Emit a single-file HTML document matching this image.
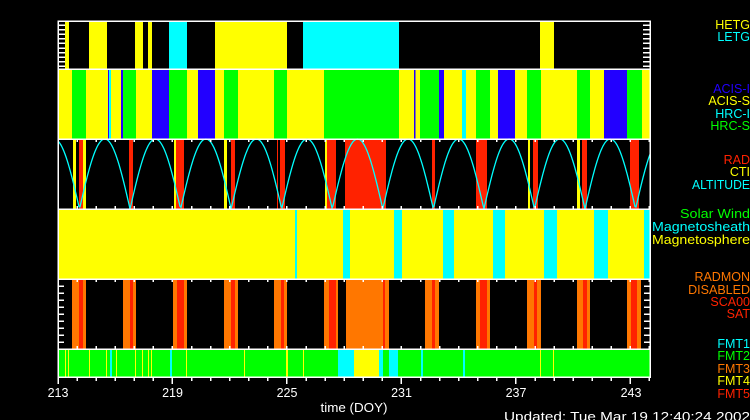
<!DOCTYPE html>
<html><head><meta charset="utf-8"><style>
html,body{margin:0;padding:0;background:#000;width:750px;height:420px;overflow:hidden}
svg{display:block}
text{font-family:"Liberation Sans",sans-serif;font-size:12.5px}
</style></head><body>
<svg id="s" width="750" height="420" viewBox="0 0 750 420" xmlns="http://www.w3.org/2000/svg" shape-rendering="crispEdges">
<rect width="750" height="420" fill="#000"/>
<g id="bars"></g>
<g id="curve"></g>
<g id="frame" stroke="#fff" stroke-width="1.5" fill="none"></g>
<g font-size="13" text-anchor="end">
<text x="750" y="29" fill="#ffff00">HETG</text>
<text x="750" y="41" fill="#00ffff">LETG</text>
<text x="750" y="93" fill="#2200ff">ACIS-I</text>
<text x="750" y="105" fill="#ffff00">ACIS-S</text>
<text x="750" y="118" fill="#00ffff">HRC-I</text>
<text x="750" y="130" fill="#00ff00">HRC-S</text>
<text x="750" y="164" fill="#ff2200">RAD</text>
<text x="750" y="176" fill="#ffff00">CTI</text>
<text x="750" y="189" fill="#00ffff" textLength="58" lengthAdjust="spacingAndGlyphs">ALTITUDE</text>
<text x="750" y="218" fill="#00ff00" textLength="70" lengthAdjust="spacingAndGlyphs">Solar Wind</text>
<text x="750" y="231" fill="#00ffff" textLength="98" lengthAdjust="spacingAndGlyphs">Magnetosheath</text>
<text x="750" y="244" fill="#ffff00" textLength="98" lengthAdjust="spacingAndGlyphs">Magnetosphere</text>
<text x="750" y="281" fill="#ff7700">RADMON</text>
<text x="750" y="294" fill="#ff7700">DISABLED</text>
<text x="750" y="306" fill="#ff2200">SCA00</text>
<text x="750" y="318" fill="#ff2200">SAT</text>
<text x="750" y="348" fill="#00ffff">FMT1</text>
<text x="750" y="360" fill="#00ff00">FMT2</text>
<text x="750" y="373" fill="#ff7700">FMT3</text>
<text x="750" y="385" fill="#ffff00">FMT4</text>
<text x="750" y="398" fill="#ff2200">FMT5</text>
</g>
<g fill="#fff" text-anchor="middle" font-size="13">
<text x="58" y="397">213</text>
<text x="172.5" y="397">219</text>
<text x="287" y="397">225</text>
<text x="401.5" y="397">231</text>
<text x="516" y="397">237</text>
<text x="631" y="397">243</text>
<text x="354" y="412" textLength="67" lengthAdjust="spacingAndGlyphs">time (DOY)</text>
</g>
<text x="504" y="421" fill="#fff" font-size="13" textLength="246" lengthAdjust="spacingAndGlyphs">Updated: Tue Mar 19 12:40:24 2002</text>
</svg>
<script>
const Y='#ffff00',C='#00ffff',G='#00ff00',B='#2200ff',R='#ff2200',O='#ff7700';
const bars=document.getElementById('bars');
let h='';
function r(x1,x2,y1,y2,c){h+=`<rect x="${x1}" y="${y1}" width="${x2-x1}" height="${y2-y1}" fill="${c}"/>`;}
[[65,69,Y],[89,107,Y],[135,143,Y],[148,152,Y],[169,187,C],[215,287,Y],[303,399,C],[540,554,Y]].forEach(a=>r(a[0],a[1],21,69,a[2]));
[[58,59,B],[59,72,Y],[72,86,G],[86,108,Y],[108,109,B],[109,111,C],[111,121,Y],[121,123,B],[123,136,G],[136,152,Y],[152,169,B],[169,187,G],[187,198,Y],[198,215,B],[215,224,Y],[224,238,G],[238,274,Y],[274,287,G],[287,324,Y],[324,399,G],[399,420,Y],[414,415.5,B],[420,439,G],[439,444,B],[444,462,Y],[462,466,C],[466,476,Y],[476,490,G],[490,498,Y],[498,515,B],[515,527,Y],[527,541,G],[541,577,Y],[577,590,G],[590,604,Y],[604,627,B],[627,642,G],[642,650,Y]].forEach(a=>r(a[0],a[1],69,139,a[2]));
[[73,76,Y],[79,83,R],[83,86,Y],[129,133,R],[174,176,Y],[176,184,R],[224,227,Y],[231,235,R],[277,278,R],[280,285,R],[325,327,Y],[327,336,R],[345,386,R],[432,435,R],[476,487,R],[528,530,Y],[533,538,R],[577,580,Y],[582,587,R],[630,639,R]].forEach(a=>r(a[0],a[1],139,209,a[2]));
r(58,650,209,279,Y);
[[295,297],[343,350],[394,402],[443,454],[493,505],[544,557],[594,608],[644,650]].forEach(a=>r(a[0],a[1],209,279,C));
[[72,86,79,83],[123,136,130,133],[173,187,177,184],[224,238,231,235],[274,287,281,284],[324,338,329,336],[346,389,383,385],[425,439,432,435],[476,490,480,487],[527,541,534,537],[577,590,583,587],[627,641,631,637]].forEach(a=>{r(a[0],a[1],279,349,O);r(a[2],a[3],279,349,R);});
r(58,650,349,377,G);
[65,68,89,106,116,135,142,148,151,186,244,303,540,553].forEach(x=>r(x,x+1,349,377,Y));
r(286,288,349,377,Y);
[[110,112],[170,172],[421,423],[463,465]].forEach(a=>r(a[0],a[1],349,377,C));
[[338,354,C],[354,379,Y],[379,383,C],[389,398,C]].forEach(a=>r(a[0],a[1],349,377,a[2]));
bars.innerHTML=h;
const P=50.55,x0=79.5;let pts=[];
for(let x=58;x<=650;x+=1){const v=Math.abs(Math.sin(Math.PI*(x-x0)/P));pts.push(x+','+(209-70*v).toFixed(1));}
document.getElementById('curve').innerHTML=`<polyline points="${pts.join(' ')}" fill="none" stroke="#00ffff" stroke-width="1.3" shape-rendering="auto"/>`;
let f='';
[[21,69],[69,139],[139,209],[209,279],[279,349],[349,377]].forEach(p=>f+=`<rect x="58" y="${p[0]}" width="592" height="${p[1]-p[0]}"/>`);
for(let y=25;y<69;y+=4.6){f+=`<line x1="58" y1="${y}" x2="65" y2="${y}"/><line x1="643" y1="${y}" x2="650" y2="${y}"/>`;}
for(let y=286;y<349;y+=7){f+=`<line x1="58" y1="${y}" x2="64" y2="${y}"/><line x1="644" y1="${y}" x2="650" y2="${y}"/>`;}
for(let d=213;d<=244;d++){const x=58+(d-213)*19.08;const L=(d-213)%6==0?7:4;
 f+=`<line x1="${x}" y1="139" x2="${x}" y2="${139+3}"/><line x1="${x}" y1="209" x2="${x}" y2="${206}"/>`;
 f+=`<line x1="${x}" y1="279" x2="${x}" y2="282"/><line x1="${x}" y1="349" x2="${x}" y2="346"/>`;
 f+=`<line x1="${x}" y1="377" x2="${x}" y2="${377+L}"/>`;}
document.getElementById('frame').innerHTML=f;
</script>
</body></html>
